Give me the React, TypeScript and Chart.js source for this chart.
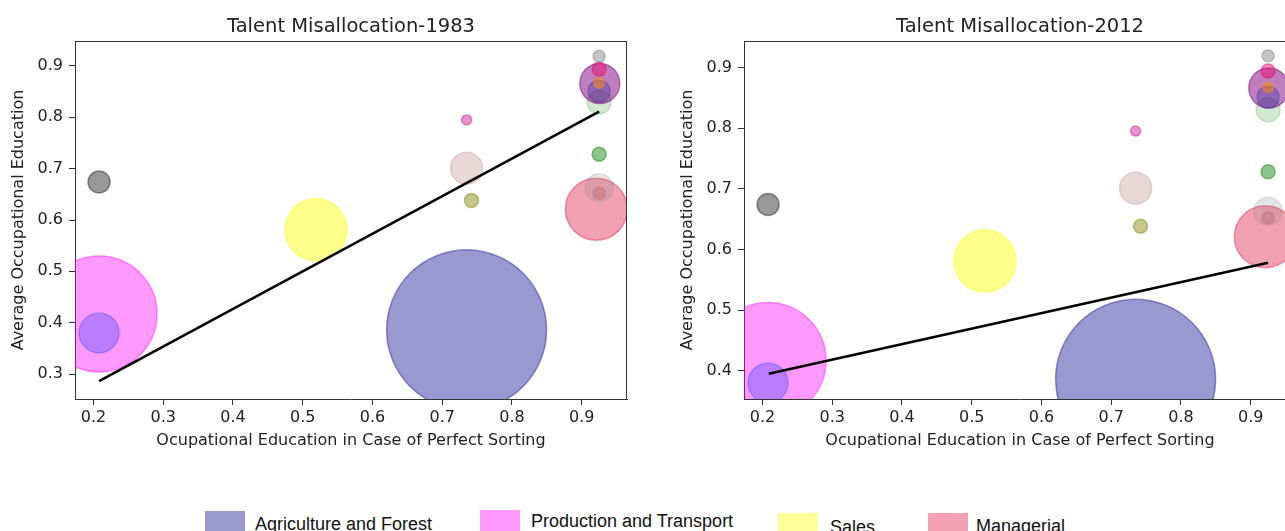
import React, { useEffect, useRef } from "react";
import { Chart, registerables } from "chart.js";
Chart.register(...registerables);

// ---------- data ----------
const legendLabels = ["Agriculture and Forest", "Production and Transport", "Sales", "Managerial"];
const legendColors = ["#9a9ad1", "#ff99ff", "#ffff99", "#f1a1b1"];

// occupational groups (same bubbles in both panels)
const bubbleX = [0.735, 0.208, 0.208, 0.208, 0.519, 0.735, 0.735, 0.742, 0.921, 0.925, 0.925, 0.925, 0.925, 0.926, 0.925, 0.925, 0.925, 0.925];
const bubbleY = [0.386, 0.417, 0.380, 0.674, 0.581, 0.701, 0.795, 0.638, 0.621, 0.663, 0.652, 0.728, 0.830, 0.866, 0.851, 0.867, 0.894, 0.919];
const bubbleSize = [80, 58, 20, 11, 31, 16, 5, 7, 31, 14, 6, 7, 12, 20, 11, 5, 7, 6];
const bubbleColors = [
  "rgba(0,0,139,0.4)",
  "rgba(255,0,255,0.4)",
  "rgba(80,80,255,0.4)",
  "rgba(40,40,40,0.48)",
  "rgba(255,255,0,0.45)",
  "rgba(188,143,143,0.35)",
  "rgba(210,40,160,0.5)",
  "rgba(128,128,0,0.45)",
  "rgba(220,20,60,0.4)",
  "rgba(128,128,128,0.2)",
  "rgba(170,80,80,0.25)",
  "rgba(0,128,0,0.45)",
  "rgba(0,128,0,0.18)",
  "rgba(128,0,128,0.5)",
  "rgba(40,40,160,0.3)",
  "rgba(255,140,0,0.5)",
  "rgba(240,0,100,0.45)",
  "rgba(128,128,128,0.45)",
];

// fitted lines
const line1983X = [0.208, 0.925];
const line1983Y = [0.286, 0.811];
const line2012X = [0.209, 0.925];
const line2012Y = [0.395, 0.578];

const xTicks = [0.2, 0.3, 0.4, 0.5, 0.6, 0.7, 0.8, 0.9];
const yTicks1983 = [0.3, 0.4, 0.5, 0.6, 0.7, 0.8, 0.9];
const yTicks2012 = [0.4, 0.5, 0.6, 0.7, 0.8, 0.9];
const xRange = [0.1735, 0.965];
const yRange1983 = [0.2513, 0.9487];
const yRange2012 = [0.3535, 0.9435];

const title1983 = "Talent Misallocation-1983";
const title2012 = "Talent Misallocation-2012";
const xLabel = "Ocupational Education in Case of Perfect Sorting";
const yLabel = "Average Occupational Education";

// ---------- chart ----------
const FONT = "'DejaVu Sans', sans-serif";
const AXIS = "#333333";
const TEXT = "#222222";

const framePlugin = {
  id: "frame",
  afterDatasetsDraw(chart: any) {
    const { ctx, chartArea: a } = chart;
    ctx.save();
    ctx.strokeStyle = AXIS;
    ctx.lineWidth = 1;
    ctx.beginPath();
    ctx.moveTo(a.left, a.top + 0.5);
    ctx.lineTo(a.right, a.top + 0.5);
    ctx.moveTo(a.right - 0.5, a.top);
    ctx.lineTo(a.right - 0.5, a.bottom);
    ctx.stroke();
    ctx.restore();
  },
  afterDraw(chart: any, _args: any, opts: any) {
    const { ctx, chartArea: a } = chart;
    ctx.save();
    ctx.fillStyle = TEXT;
    ctx.font = `19.5px ${FONT}`;
    ctx.textAlign = "center";
    ctx.textBaseline = "alphabetic";
    ctx.fillText(opts.text, (a.left + a.right) / 2, 32);
    ctx.restore();
  },
};

function makeConfig(lineX: number[], lineY: number[], yRange: number[], yTicks: number[], title: string): any {
  const tickFont = { family: FONT, size: 16 };
  return {
    type: "bubble",
    data: {
      datasets: [
        {
          type: "line",
          data: lineX.map((x, i) => ({ x, y: lineY[i] })),
          borderColor: "#000",
          borderWidth: 2.5,
          pointRadius: 0,
          fill: false,
          tension: 0,
        },
        {
          type: "bubble",
          data: bubbleX.map((x, i) => ({ x, y: bubbleY[i], r: bubbleSize[i] })),
          backgroundColor: bubbleColors,
          borderColor: bubbleColors,
          borderWidth: 1.5,
        },
      ],
    },
    options: {
      animation: false,
      responsive: false,
      events: [],
      layout: { autoPadding: false, padding: { top: 41, right: 13, bottom: 0, left: 0 } },
      plugins: {
        legend: { display: false },
        tooltip: { enabled: false },
        title: { display: false },
        frame: { text: title },
      },
      scales: {
        x: {
          type: "linear",
          min: xRange[0],
          max: xRange[1],
          afterBuildTicks: (s: any) => {
            s.ticks = xTicks.map((v) => ({ value: v }));
          },
          afterFit: (s: any) => {
            s.height = 71;
          },
          ticks: {
            callback: (v: number) => v.toFixed(1),
            font: tickFont,
            color: TEXT,
            padding: 3,
            maxRotation: 0,
            autoSkip: false,
          },
          grid: { drawOnChartArea: false, drawTicks: true, tickLength: 6, color: AXIS, tickWidth: 1 },
          border: { display: true, color: AXIS, width: 1 },
          title: { display: true, text: xLabel, font: tickFont, color: TEXT, padding: { top: 0, bottom: 20 } },
        },
        y: {
          type: "linear",
          min: yRange[0],
          max: yRange[1],
          afterBuildTicks: (s: any) => {
            s.ticks = yTicks.map((v) => ({ value: v }));
          },
          afterFit: (s: any) => {
            s.width = 75;
          },
          ticks: {
            callback: (v: number) => v.toFixed(1),
            font: tickFont,
            color: TEXT,
            padding: 6,
            autoSkip: false,
          },
          grid: { drawOnChartArea: false, drawTicks: true, tickLength: 6, color: AXIS, tickWidth: 1 },
          border: { display: true, color: AXIS, width: 1 },
          title: { display: true, text: yLabel, font: tickFont, color: TEXT, padding: { top: 9, bottom: 0 } },
        },
      },
    },
    plugins: [framePlugin],
  };
}

function Panel(props: { left: number; cfg: () => any }) {
  const ref = useRef<HTMLCanvasElement | null>(null);
  useEffect(() => {
    if (!ref.current) return;
    const chart = new Chart(ref.current, props.cfg());
    return () => chart.destroy();
  }, []);
  return (
    <canvas
      ref={ref}
      width={640}
      height={470}
      style={{ position: "absolute", left: props.left, top: 0, width: 640, height: 470 }}
    />
  );
}

const legendPos = [
  { patch: 205, patchTop: 511, text: 255, base: 530 },
  { patch: 480, patchTop: 510, text: 531, base: 527 },
  { patch: 778, patchTop: 513, text: 830, base: 533 },
  { patch: 928, patchTop: 513, text: 976, base: 532 },
];

export default function App() {
  return (
    <div
      style={{
        position: "fixed",
        left: 0,
        top: 0,
        width: 1285,
        height: 531,
        overflow: "hidden",
        background: "#fff",
      }}
    >
      <Panel left={0} cfg={() => makeConfig(line1983X, line1983Y, yRange1983, yTicks1983, title1983)} />
      <Panel left={669} cfg={() => makeConfig(line2012X, line2012Y, yRange2012, yTicks2012, title2012)} />
      {legendLabels.map((lab, i) => (
        <React.Fragment key={lab}>
          <div
            style={{
              position: "absolute",
              left: legendPos[i].patch,
              top: legendPos[i].patchTop,
              width: 40,
              height: 22,
              background: legendColors[i],
            }}
          />
          <div
            style={{
              position: "absolute",
              left: legendPos[i].text,
              top: legendPos[i].base - 15,
              fontFamily: "'Liberation Sans', Arial, sans-serif",
              fontSize: 18,
              lineHeight: "18px",
              color: "#111",
              whiteSpace: "nowrap",
            }}
          >
            {lab}
          </div>
        </React.Fragment>
      ))}
    </div>
  );
}
